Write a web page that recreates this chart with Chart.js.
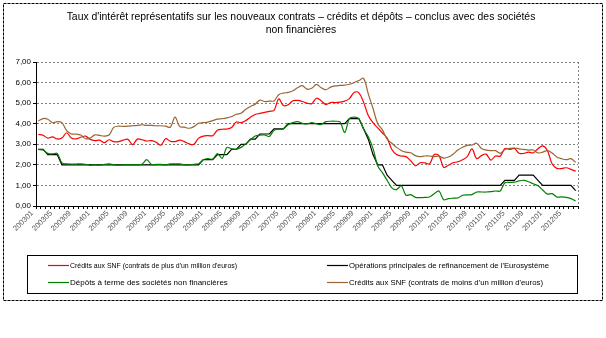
<!DOCTYPE html>
<html>
<head>
<meta charset="utf-8">
<script src="https://cdn.jsdelivr.net/npm/chart.js@4"></script>
<style>
  html, body { margin: 0; padding: 0; background: #fff; }
  #wrap { position: relative; width: 606px; height: 338px; }
</style>
</head>
<body>
<div id="wrap"><canvas id="graphique" width="606" height="338"></canvas></div>
<script>
// mois (aaaamm), janvier 2003 -> juillet 2012
const mois = [
  "200301","200302","200303","200304","200305","200306","200307","200308","200309","200310","200311","200312",
  "200401","200402","200403","200404","200405","200406","200407","200408","200409","200410","200411","200412",
  "200501","200502","200503","200504","200505","200506","200507","200508","200509","200510","200511","200512",
  "200601","200602","200603","200604","200605","200606","200607","200608","200609","200610","200611","200612",
  "200701","200702","200703","200704","200705","200706","200707","200708","200709","200710","200711","200712",
  "200801","200802","200803","200804","200805","200806","200807","200808","200809","200810","200811","200812",
  "200901","200902","200903","200904","200905","200906","200907","200908","200909","200910","200911","200912",
  "201001","201002","201003","201004","201005","201006","201007","201008","201009","201010","201011","201012",
  "201101","201102","201103","201104","201105","201106","201107","201108","201109","201110","201111","201112",
  "201201","201202","201203","201204","201205","201206","201207"
];

// Crédits aux SNF (contrats de plus d'un million d'euros)
const creditsPlus1M = [
  3.48, 3.44, 3.30, 3.36, 3.26, 3.30, 3.56, 3.30, 3.26, 3.34, 3.40, 3.24,
  3.18, 3.20, 3.08, 3.22, 3.13, 3.13, 3.20, 3.24, 2.98, 3.25, 3.22, 3.16,
  3.18, 3.10, 2.96, 3.27, 3.15, 3.13, 3.20, 3.13, 3.02, 3.00, 3.30, 3.40,
  3.42, 3.42, 3.68, 3.73, 3.74, 3.82, 4.08, 4.05, 4.15, 4.32, 4.45, 4.50,
  4.55, 4.60, 4.65, 5.20, 4.88, 4.92, 5.12, 5.13, 5.08, 5.00, 4.97, 5.24,
  5.12, 4.93, 5.03, 5.03, 5.05, 5.10, 5.22, 5.52, 5.50, 5.05, 4.40, 4.05,
  3.80, 3.55, 3.30, 2.75, 2.50, 2.43, 2.40, 2.20, 1.96, 2.10, 2.10, 2.05,
  2.50, 2.45, 1.88, 1.98, 2.10, 2.15, 2.25, 2.40, 2.78, 2.30, 2.45, 2.52,
  2.23, 2.43, 2.42, 2.80, 2.75, 2.80, 2.56, 2.56, 2.62, 2.58, 2.78, 2.92,
  2.70, 2.05, 1.83, 1.82, 1.86, 1.78, 1.69
];

// Opérations principales de refinancement de l'Eurosystème
const tauxRefi = [
  2.75, 2.75, 2.50, 2.50, 2.50, 2.00, 2.00, 2.00, 2.00, 2.00, 2.00, 2.00,
  2.00, 2.00, 2.00, 2.00, 2.00, 2.00, 2.00, 2.00, 2.00, 2.00, 2.00, 2.00,
  2.00, 2.00, 2.00, 2.00, 2.00, 2.00, 2.00, 2.00, 2.00, 2.00, 2.00, 2.25,
  2.25, 2.25, 2.50, 2.50, 2.50, 2.75, 2.75, 3.00, 3.00, 3.25, 3.25, 3.50,
  3.50, 3.50, 3.75, 3.75, 3.75, 4.00, 4.00, 4.00, 4.00, 4.00, 4.00, 4.00,
  4.00, 4.00, 4.00, 4.00, 4.00, 4.00, 4.25, 4.25, 4.25, 3.75, 3.25, 2.50,
  2.00, 2.00, 1.50, 1.25, 1.00, 1.00, 1.00, 1.00, 1.00, 1.00, 1.00, 1.00,
  1.00, 1.00, 1.00, 1.00, 1.00, 1.00, 1.00, 1.00, 1.00, 1.00, 1.00, 1.00,
  1.00, 1.00, 1.00, 1.25, 1.25, 1.25, 1.50, 1.50, 1.50, 1.50, 1.25, 1.00,
  1.00, 1.00, 1.00, 1.00, 1.00, 1.00, 0.75
];

// Dépôts à terme des sociétés non financières
const depotsTerme = [
  2.75, 2.72, 2.56, 2.53, 2.56, 2.10, 2.05, 2.04, 2.04, 2.05, 2.03, 1.98,
  2.00, 1.98, 2.02, 2.05, 2.00, 1.98, 2.00, 2.00, 2.00, 2.00, 2.03, 2.25,
  2.02, 2.02, 2.02, 2.00, 2.05, 2.05, 2.05, 2.00, 2.00, 2.03, 2.05, 2.25,
  2.30, 2.28, 2.55, 2.32, 2.85, 2.78, 2.76, 2.85, 3.02, 3.22, 3.40, 3.45,
  3.45, 3.38, 3.68, 3.73, 3.75, 3.95, 4.05, 4.10, 4.02, 3.99, 4.05, 4.00,
  3.96, 4.10, 4.12, 4.12, 4.09, 3.57, 4.25, 4.32, 4.25, 3.75, 3.37, 2.80,
  1.95, 1.62, 1.25, 0.88, 0.80, 0.98, 0.52, 0.55, 0.42, 0.41, 0.42, 0.44,
  0.60, 0.73, 0.30, 0.36, 0.38, 0.39, 0.52, 0.54, 0.55, 0.68, 0.68, 0.68,
  0.70, 0.73, 0.73, 1.13, 1.15, 1.16, 1.22, 1.25, 1.18, 1.08, 0.98, 0.78,
  0.58, 0.60, 0.44, 0.44, 0.42, 0.36, 0.24
];

// Crédits aux SNF (contrats de moins d'un million d'euros)
const creditsMoins1M = [
  4.14, 4.25, 4.22, 4.05, 4.10, 4.05, 3.66, 3.50, 3.50, 3.45, 3.27, 3.30,
  3.46, 3.43, 3.40, 3.45, 3.82, 3.88, 3.87, 3.88, 3.90, 3.92, 3.95, 3.92,
  3.92, 3.90, 3.90, 3.88, 3.83, 4.32, 3.86, 3.83, 3.78, 3.86, 4.02, 4.05,
  4.08, 4.15, 4.22, 4.24, 4.28, 4.35, 4.46, 4.51, 4.70, 4.84, 4.95, 5.15,
  5.08, 5.10, 5.11, 5.41, 5.49, 5.52, 5.60, 5.75, 5.85, 5.68, 5.72, 5.91,
  5.75, 5.65, 5.78, 5.84, 5.86, 5.88, 5.92, 6.00, 6.10, 6.20, 5.45, 4.75,
  4.00, 3.70, 3.25, 3.05, 2.85, 2.70, 2.62, 2.59, 2.45, 2.40, 2.43, 2.43,
  2.40, 2.42, 2.33, 2.38, 2.52, 2.72, 2.86, 2.95, 2.96, 3.05, 2.80, 2.72,
  2.69, 2.69, 2.56, 2.75, 2.80, 2.82, 2.78, 2.75, 2.72, 2.72, 2.58, 2.62,
  2.69, 2.58, 2.38, 2.30, 2.25, 2.30, 2.12
];

const titre = [
  "Taux d'intérêt représentatifs sur les nouveaux contrats – crédits et dépôts – conclus avec des sociétés",
  "non financières"
];

const police = '"Liberation Sans", Arial, sans-serif';
Chart.defaults.font.family = police;

// titre, cadre exterieur, bord droit du tracé et légende à deux colonnes (façon Excel)
const cadre = {
  id: "cadre",
  afterDraw(chart) {
    const ctx = chart.ctx;
    const a = chart.chartArea;
    ctx.save();

    ctx.fillStyle = "#000";
    ctx.font = "10.4px " + police;
    ctx.textAlign = "center";
    ctx.textBaseline = "middle";
    titre.forEach((ligne, i) => ctx.fillText(ligne, 301, 17 + i * 13));

    ctx.strokeStyle = "#808080";
    ctx.lineWidth = 1;
    ctx.setLineDash([2, 2]);
    ctx.beginPath();
    ctx.moveTo(Math.round(a.right) + 0.5, a.top);
    ctx.lineTo(Math.round(a.right) + 0.5, a.bottom);
    ctx.stroke();

    ctx.strokeStyle = "#000";
    ctx.setLineDash([3, 1]);
    ctx.strokeRect(3.5, 3.5, 599, 297);

    ctx.setLineDash([]);
    ctx.strokeRect(27.5, 255.5, 550, 38);

    // positions des entrées : rouge, noir / vert, brun
    const places = [
      { x: 48, y: 265, w: 167 },
      { x: 327, y: 265, w: 200 },
      { x: 48, y: 282, w: 158 },
      { x: 327, y: 282, w: 194 }
    ];
    ctx.font = "8px " + police;
    ctx.textAlign = "left";
    chart.data.datasets.forEach((ds, i) => {
      const p = places[i];
      ctx.strokeStyle = ds.borderColor;
      ctx.lineWidth = 1.2;
      ctx.beginPath();
      ctx.moveTo(p.x, p.y + 0.5);
      ctx.lineTo(p.x + 21, p.y + 0.5);
      ctx.stroke();
      ctx.fillText(ds.label, p.x + 22, p.y + 0.5, p.w);
    });
    ctx.restore();
  }
};

new Chart(document.getElementById("graphique"), {
  type: "line",
  data: {
    labels: mois,
    datasets: [
      {
        label: "Crédits aux SNF (contrats de plus d'un million d'euros)",
        data: creditsPlus1M,
        borderColor: "#ff0000",
        borderWidth: 1.2,
        tension: 0.35,
        pointRadius: 0,
        order: 4
      },
      {
        label: "Opérations principales de refinancement de l'Eurosystème",
        data: tauxRefi,
        borderColor: "#000000",
        borderWidth: 1.2,
        tension: 0,
        pointRadius: 0,
        order: 3
      },
      {
        label: "Dépôts à terme des sociétés non financières",
        data: depotsTerme,
        borderColor: "#008000",
        borderWidth: 1.2,
        tension: 0.3,
        pointRadius: 0,
        order: 2
      },
      {
        label: "Crédits aux SNF (contrats de moins d'un million d'euros)",
        data: creditsMoins1M,
        borderColor: "#996633",
        borderWidth: 1.2,
        tension: 0.35,
        pointRadius: 0,
        order: 1
      }
    ]
  },
  options: {
    responsive: false,
    devicePixelRatio: 1,
    animation: false,
    layout: { padding: { left: 0, right: 28, top: 62, bottom: 86 } },
    scales: {
      x: {
        type: "category",
        offset: true,
        grid: {
          offset: true,
          drawOnChartArea: false,
          drawTicks: true,
          tickLength: 3,
          color: "#000"
        },
        border: { color: "#000" },
        ticks: {
          autoSkip: false,
          maxRotation: 45,
          minRotation: 45,
          padding: 0,
          labelOffset: -6,
          color: "#555",
          font: { size: 7.5 },
          callback: (val, i) => (i % 4 === 0 ? mois[i] : "")
        },
        afterFit: (s) => { s.height = 46; }
      },
      y: {
        min: 0,
        max: 7,
        grid: {
          color: "#808080",
          tickColor: "#000",
          tickLength: 3
        },
        border: { color: "#000", dash: [2, 2] },
        ticks: {
          stepSize: 1,
          padding: 2,
          color: "#000",
          font: { size: 8 },
          callback: (v) => Number(v).toFixed(2).replace(".", ",")
        },
        afterFit: (s) => { s.width = 36; }
      }
    },
    plugins: {
      legend: { display: false },
      tooltip: { enabled: false },
      title: { display: false }
    }
  },
  plugins: [cadre]
});
</script>
</body>
</html>
